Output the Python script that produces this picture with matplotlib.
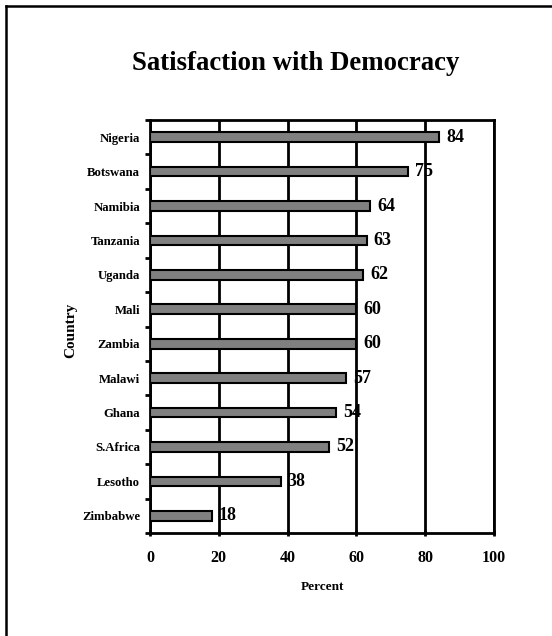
import matplotlib
matplotlib.use("Agg")
import matplotlib.pyplot as plt
from matplotlib.lines import Line2D
import numpy as np

countries = ["Nigeria", "Botswana", "Namibia", "Tanzania", "Uganda", "Mali",
             "Zambia", "Malawi", "Ghana", "S.Africa", "Lesotho", "Zimbabwe"]
values = [84, 75, 64, 63, 62, 60, 60, 57, 54, 52, 38, 18]
xticks = [0, 20, 40, 60, 80, 100]

plt.rcParams['font.family'] = ['Liberation Serif', 'DejaVu Serif']
plt.rcParams['font.weight'] = 'bold'

fig = plt.figure(figsize=(5.52, 6.36), dpi=100)
ax = fig.add_axes([150/552, 1-533/636, 344/552, (533-120)/636])

y = np.arange(len(countries))
ax.barh(y, values, height=0.28, color="#808080", edgecolor="black", linewidth=1.5, zorder=3)
for yi, v in zip(y, values):
    ax.annotate(str(v), (v, yi), xytext=(5, 0), textcoords="offset points",
                va="center", ha="left", fontsize=13, fontweight="bold", zorder=4)

ax.set_xlim(0, 100)
ax.set_ylim(len(countries) - 0.5, -0.5)
ax.set_xticks(xticks)
ax.set_xticklabels([str(t) for t in xticks], fontsize=11.5, fontweight="bold")
ax.set_yticks(y)
ax.set_yticklabels(countries, fontsize=9.2, fontweight="bold")
ax.set_yticks(np.arange(-0.5, len(countries), 1), minor=True)
ax.tick_params(axis="y", which="major", length=0, pad=7)
ax.tick_params(axis="y", which="minor", length=3.5, width=2, direction="out")
ax.tick_params(axis="x", which="major", length=4, width=2, direction="inout", pad=10)
ax.xaxis.grid(True, color="black", linewidth=2, zorder=1)
for s in ["left", "bottom", "top", "right"]:
    ax.spines[s].set_linewidth(2)
ax.set_axisbelow(True)

ax.set_xlabel("Percent", fontsize=9.5, fontweight="bold", labelpad=11)
ax.set_ylabel("Country", fontsize=11, fontweight="bold")
ax.yaxis.set_label_coords((70.5 - 150) / 344, 0.49)
ax.yaxis.label.set_verticalalignment("center")
fig.text(0.535, 1-64/636, "Satisfaction with Democracy", ha="center", va="center",
         fontsize=19.3, fontweight="bold")

fig.add_artist(Line2D([6/552, 1], [1-6/636, 1-6/636], color="black", linewidth=1.8,
                      transform=fig.transFigure))
fig.add_artist(Line2D([6/552, 6/552], [0, 1-6/636], color="black", linewidth=1.8,
                      transform=fig.transFigure))

fig.savefig("out.png", dpi=100)
